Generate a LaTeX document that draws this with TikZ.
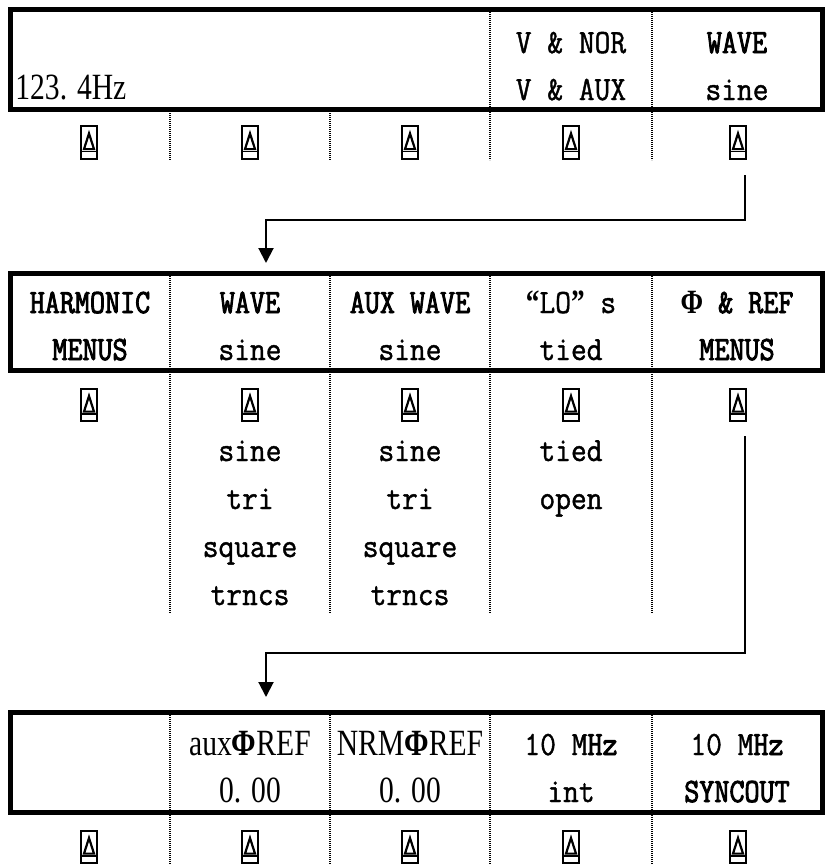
\documentclass[tikz,border=0pt]{standalone}
\usepackage{fontspec}
\setmainfont{Liberation Serif}
\newfontfamily\monof[FakeStretch=0.9,FakeBold=1.2]{Latin Modern Mono}
\newfontfamily\monob[FakeStretch=0.86,FakeBold=2.6]{Latin Modern Mono}
\newfontfamily\serc[FakeStretch=0.8]{Liberation Serif}
\usetikzlibrary{arrows.meta}
\begin{document}
\begin{tikzpicture}[x=0.5pt,y=-0.5pt,
  panel/.style={line width=2.5pt},
  divider/.style={line width=1pt, dash pattern=on 0.6pt off 0.4pt},
  conn/.style={line width=1pt,-{Triangle[width=7.5pt,length=7.5pt]}},
  mtxt/.style={anchor=base, inner sep=0pt, font=\monof\fontsize{17pt}{20pt}\selectfont},
  btxt/.style={anchor=base, inner sep=0pt, font=\monob\fontsize{17pt}{20pt}\selectfont},
  stxt/.style={anchor=base, inner sep=0pt, font=\serc\fontsize{18.5pt}{20pt}\selectfont},
  icon/.style={draw, line width=1pt, minimum width=8.2pt, minimum height=16.2pt, inner sep=0pt,
    path picture={
      \draw[line width=0.75pt] ([yshift=3.6pt]path picture bounding box.south west) -- ([yshift=3.6pt]path picture bounding box.south east);
      \draw[line width=1.1pt, line join=miter] ([xshift=-2.5pt,yshift=4.8pt]path picture bounding box.south) -- ([yshift=12.6pt]path picture bounding box.south) -- ([xshift=2.5pt,yshift=4.8pt]path picture bounding box.south) -- cycle;
    }}
]
\useasboundingbox (0,0) rectangle (826,864);

% ---------- panel 1 ----------
\draw[panel] (10,9.5) rectangle (822,109.5);
\draw[divider] (170,111) -- (170,160);
\draw[divider] (330,111) -- (330,160);
\draw[divider] (490,12) -- (490,160);
\draw[divider] (652,12) -- (652,160);
\node[stxt, anchor=base west] (p1freq) at (15,99) {123. 4Hz};
\node[mtxt] (p1c4a) at (571,53) {V \& NOR};
\node[mtxt] (p1c4b) at (571,100) {V \& AUX};
\node[btxt] (p1c5a) at (737,53) {WAVE};
\node[mtxt] (p1c5b) at (737,100) {sine};
\node[icon] (i11) at (89,142.5) {};
\node[icon] (i12) at (250,142.5) {};
\node[icon] (i13) at (410,142.5) {};
\node[icon] (i14) at (571,142.5) {};
\node[icon] (i15) at (738,142.5) {};

% arrow 1
\coordinate (a1s) at (745,175);
\coordinate (a1m) at (266,220);
\coordinate (a1e) at (266,263);
\draw[conn] (a1s) |- (a1m) -- (a1e);

% ---------- panel 2 ----------
\draw[panel] (10,273.5) rectangle (822,370.5);
\foreach \xx in {170,330,490,652} \draw[divider] (\xx,276) -- (\xx,613);
\node[btxt] (p2c1a) at (90,313) {HARMONIC};
\node[btxt] (p2c1b) at (90,360) {MENUS};
\node[btxt] (p2c2a) at (250,313) {WAVE};
\node[mtxt] (p2c2b) at (250,360) {sine};
\node[btxt] (p2c3a) at (410,313) {AUX WAVE};
\node[mtxt] (p2c3b) at (410,360) {sine};
\node[mtxt] (p2c4a) at (571,313) {{\serc\bfseries “}LO{\serc\bfseries ”} s};
\node[mtxt] (p2c4b) at (571,360) {tied};
\node[btxt] (p2c5a) at (737,313) {{\serc\bfseries Φ} \& REF};
\node[btxt] (p2c5b) at (737,360) {MENUS};
\node[icon] (i21) at (89,405) {};
\node[icon] (i22) at (250,405) {};
\node[icon] (i23) at (410,405) {};
\node[icon] (i24) at (571,405) {};
\node[icon] (i25) at (738,405) {};
% option lists
\node[mtxt] (l2a) at (250,461) {sine};
\node[mtxt] (l2b) at (250,509) {tri};
\node[mtxt] (l2c) at (250,557) {square};
\node[mtxt] (l2d) at (250,605) {trncs};
\node[mtxt] (l3a) at (410,461) {sine};
\node[mtxt] (l3b) at (410,509) {tri};
\node[mtxt] (l3c) at (410,557) {square};
\node[mtxt] (l3d) at (410,605) {trncs};
\node[mtxt] (l4a) at (571,461) {tied};
\node[mtxt] (l4b) at (571,509) {open};

% arrow 2
\coordinate (a2s) at (745,436);
\coordinate (a2m) at (266,653);
\coordinate (a2e) at (266,697);
\draw[conn] (a2s) |- (a2m) -- (a2e);

% ---------- panel 3 ----------
\draw[panel] (10,712.5) rectangle (822,812.5);
\foreach \xx in {170,330,490,652} \draw[divider] (\xx,715) -- (\xx,864);
\node[stxt] (p3c2a) at (250,755) {aux{\bfseries Φ}REF};
\node[stxt] (p3c2b) at (250,802) {0. 00};
\node[stxt] (p3c3a) at (410,755) {NRM{\bfseries Φ}REF};
\node[stxt] (p3c3b) at (410,802) {0. 00};
\node[mtxt] (p3c4a) at (571,755) {10 M{\monob Hz}};
\node[mtxt] (p3c4b) at (571,802) {int};
\node[mtxt] (p3c5a) at (737,755) {10 M{\monob Hz}};
\node[btxt] (p3c5b) at (737,802) {SYNCOUT};
\node[icon] (i31) at (89,847) {};
\node[icon] (i32) at (250,847) {};
\node[icon] (i33) at (410,847) {};
\node[icon] (i34) at (571,847) {};
\node[icon] (i35) at (738,847) {};
\end{tikzpicture}
\end{document}
